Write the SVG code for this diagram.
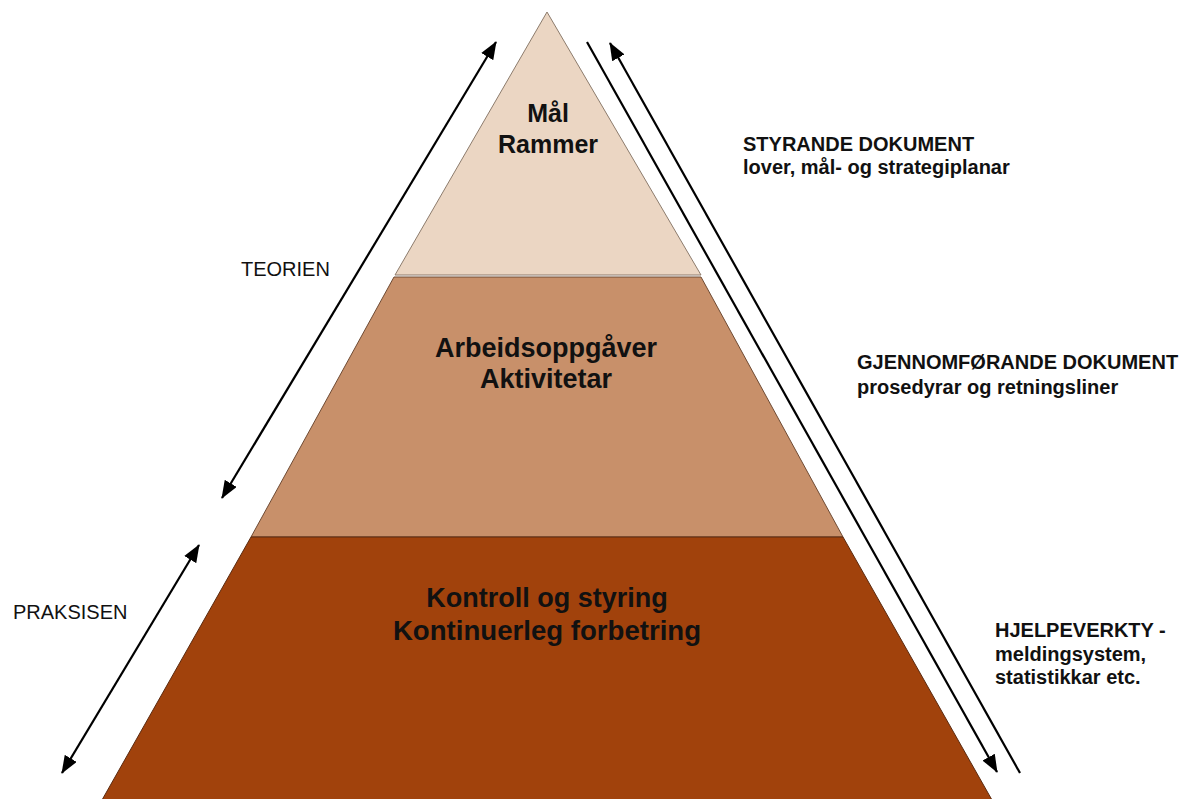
<svg xmlns="http://www.w3.org/2000/svg" width="1188" height="799" viewBox="0 0 1188 799">
<defs>
<style>
.lbl{font-family:"Liberation Sans",Arial,sans-serif;fill:#111}
.big{font-size:27px;font-weight:bold;text-anchor:middle}
.side{font-size:20px}
.doc{font-size:20px;font-weight:bold}
.ln{stroke:#000;stroke-width:2.2;fill:none}
</style>
<marker id="ah" markerUnits="userSpaceOnUse" markerWidth="18" markerHeight="14" refX="17" refY="7" orient="auto-start-reverse" viewBox="0 0 18 14">
<path d="M0,0 L18,7 L0,14 z" fill="#000"/>
</marker>
</defs>
<rect width="1188" height="799" fill="#fff"/>
<g id="layer-top">
<polygon points="547,12 395,275 701,275" fill="#EBD6C3" stroke="#8c7b6c" stroke-width="1"/>
<text class="lbl big" x="548" y="122" style="font-size:25px">Mål</text>
<text class="lbl big" x="548" y="153" style="font-size:25px">Rammer</text>
</g>
<g id="layer-middle">
<polygon points="394,277 701,277 843,537 251,537" fill="#C8906A" stroke="#6e4a33" stroke-width="1"/>
<text class="lbl big" x="546" y="357">Arbeidsoppgåver</text>
<text class="lbl big" x="546" y="388">Aktivitetar</text>
</g>
<g id="layer-bottom">
<polygon points="251,537 843,537 992,800 102,800" fill="#A1420C" stroke="#5a2a10" stroke-width="1"/>
<text class="lbl big" x="547" y="607">Kontroll og styring</text>
<text class="lbl big" x="547" y="640" style="font-size:27.6px">Kontinuerleg forbetring</text>
</g>
<g id="connectors">
<line class="ln" x1="222" y1="498" x2="496" y2="42" marker-start="url(#ah)" marker-end="url(#ah)"/>
<line class="ln" x1="62" y1="773" x2="199" y2="545" marker-start="url(#ah)" marker-end="url(#ah)"/>
<line class="ln" x1="587" y1="42" x2="997" y2="772" marker-end="url(#ah)"/>
<line class="ln" x1="1020" y1="773" x2="610" y2="43" marker-end="url(#ah)"/>
</g>
<g id="label-teorien">
<text class="lbl side" x="241" y="276">TEORIEN</text>
</g>
<g id="label-praksisen">
<text class="lbl side" x="13" y="619">PRAKSISEN</text>
</g>
<g id="label-styrande">
<text class="lbl doc" x="743" y="151">STYRANDE DOKUMENT</text>
<text class="lbl doc" x="743" y="174">lover, mål- og strategiplanar</text>
</g>
<g id="label-gjennom">
<text class="lbl doc" x="857" y="369">GJENNOMFØRANDE DOKUMENT</text>
<text class="lbl doc" x="857" y="394">prosedyrar og retningsliner</text>
</g>
<g id="label-hjelp">
<text class="lbl doc" x="995" y="637">HJELPEVERKTY -</text>
<text class="lbl doc" x="995" y="661">meldingsystem,</text>
<text class="lbl doc" x="995" y="684">statistikkar etc.</text>
</g>
</svg>
